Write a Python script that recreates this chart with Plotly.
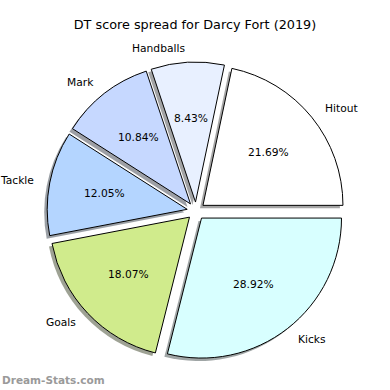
import math
import plotly.graph_objects as go

# ---- data ----
labels = ["Hitout", "Handballs", "Mark", "Tackle", "Goals", "Kicks"]
points = [18, 7, 9, 10, 15, 24]
colors = ["#ffffff", "#e8f0ff", "#c6d8ff", "#b4d5ff", "#d0eb8c", "#d8ffff"]
title = "DT score spread for Darcy Fort (2019)"
watermark = "Dream-Stats.com"

# ---- layout constants (pixels) ----
W = H = 390
R = 140.0          # pie radius
CX, CY = 196.0, 211.0   # pie centre (from top-left)
PULL = 0.064
SH = 3.0           # shadow offset px
FONT = "DejaVu Sans"

total = sum(points)
# first wedge starts at 3 o'clock and runs counter-clockwise (matplotlib default)
ROT = 90 - 360 * points[0] / total

half = R * (1 + PULL)

def dom(cx, cy):
    return dict(x=[(cx - half) / W, (cx + half) / W],
                y=[(H - cy - half) / H, (H - cy + half) / H])

def shade(hexc):
    r, g, b = (int(hexc[i:i + 2], 16) for i in (1, 3, 5))
    return "rgba(%d,%d,%d,0.5)" % (r * 0.3, g * 0.3, b * 0.3)

fig = go.Figure()
# shadow
fig.add_trace(go.Pie(
    labels=labels, values=points, sort=False, direction="counterclockwise",
    rotation=ROT, pull=[PULL] * len(points), domain=dom(CX - SH, CY + SH),
    marker=dict(colors=[shade(c) for c in colors], line=dict(width=0)),
    textinfo="none", hoverinfo="skip", showlegend=False))
# main pie
fig.add_trace(go.Pie(
    labels=labels, values=points, sort=False, direction="counterclockwise",
    rotation=ROT, pull=[PULL] * len(points), domain=dom(CX, CY),
    marker=dict(colors=colors, line=dict(color="black", width=1)),
    textinfo="none", showlegend=False))

# labels and percentages (matplotlib-style placement)
start = 0.0
for lab, v in zip(labels, points):
    frac = v / total
    mid = math.radians(360 * (start + frac / 2))
    start += frac
    c, s = math.cos(mid), math.sin(mid)
    ex, ey = CX + PULL * R * c, CY - PULL * R * s
    lx, ly = ex + 1.1 * R * c, ey - 1.1 * R * s
    fig.add_annotation(x=lx / W, y=1 - ly / H, xref="paper", yref="paper",
                       text=lab, showarrow=False,
                       xanchor="left" if c > 0 else "right", yanchor="middle",
                       font=dict(family=FONT, size=10.7, color="black"))
    px, py = ex + 0.6 * R * c, ey - 0.6 * R * s
    fig.add_annotation(x=px / W, y=1 - py / H, xref="paper", yref="paper",
                       text="%.2f%%" % (100 * frac), showarrow=False,
                       xanchor="center", yanchor="middle",
                       font=dict(family=FONT, size=10.7, color="black"))

fig.add_annotation(x=0, y=1 - 380 / H, xref="paper", yref="paper",
                   text="<b>%s</b>" % watermark, showarrow=False,
                   xanchor="left", yanchor="middle",
                   font=dict(family=FONT, size=10.5, color="#9a9a9a"))

fig.update_layout(
    width=W, height=H, margin=dict(l=0, r=0, t=0, b=0),
    paper_bgcolor="white", plot_bgcolor="white",
    title=dict(text=title, x=0.5, xanchor="center", y=1 - 25 / H,
               yanchor="middle", font=dict(family=FONT, size=12.8, color="black")),
)

fig.write_html("out.html", config={"displayModeBar": False},
               post_script="document.body.style.margin='0';document.body.style.overflow='hidden';")
